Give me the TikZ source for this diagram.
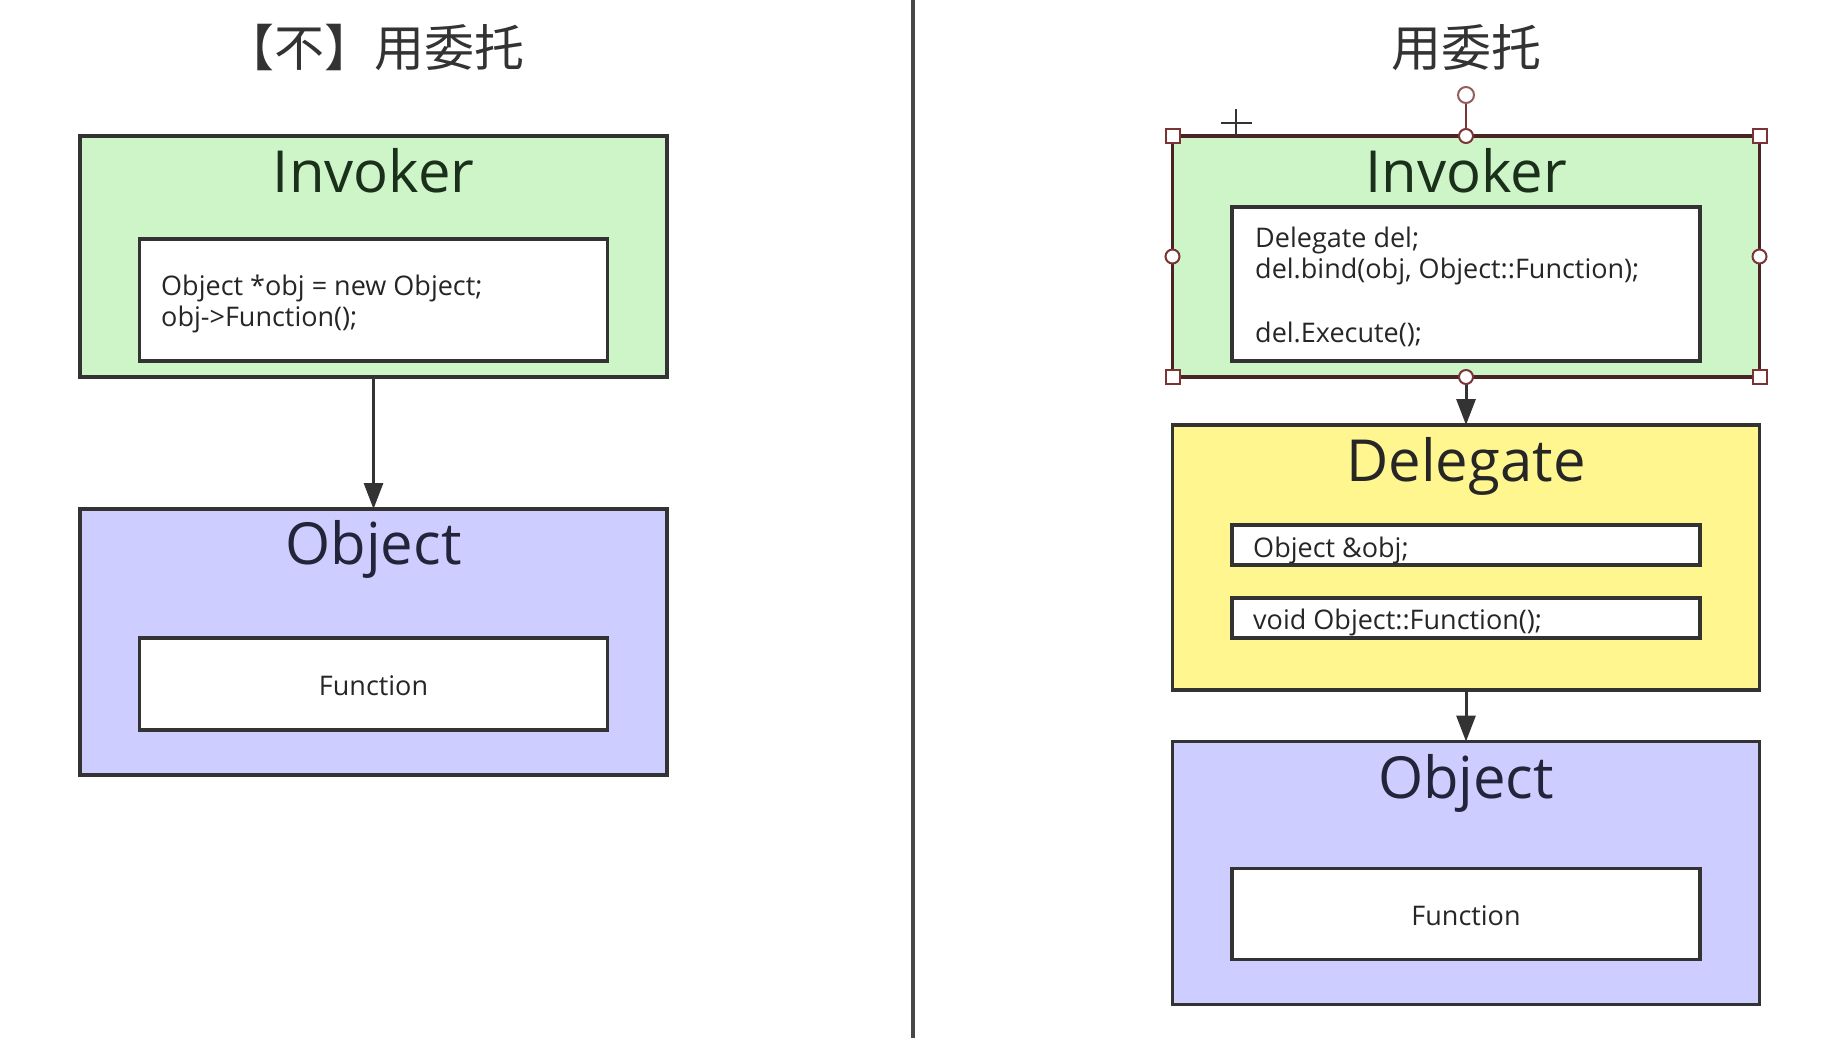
\documentclass[tikz,border=0pt]{standalone}
\usepackage{fontspec}
\setmainfont{Open Sans}
\newfontfamily\cjk{Noto Sans CJK SC}
\usetikzlibrary{arrows.meta}
\definecolor{bordergray}{HTML}{333333}
\definecolor{invgreen}{RGB}{205,245,200}
\definecolor{objblue}{RGB}{205,205,255}
\definecolor{delyellow}{RGB}{255,246,143}
\definecolor{selred}{HTML}{7A3434}
\definecolor{selbox}{HTML}{4A2424}
\definecolor{txtgreen}{HTML}{1B301B}
\definecolor{txtblue}{HTML}{22243A}
\tikzset{
  outerbox/.style={draw=bordergray, line width=3.5pt, rectangle, inner sep=0pt, outer sep=0pt, minimum width=587pt},
  innerbox/.style={draw=bordergray, line width=3.5pt, fill=white, rectangle, inner sep=0pt, outer sep=0pt, minimum width=468pt},
  bigtitle/.style={font=\fontsize{58}{70}\selectfont, anchor=base, inner sep=0pt},
  codetext/.style={font=\fontsize{27}{31}\selectfont, anchor=base west, inner sep=0pt, text=black!85},
  cjktitle/.style={font=\cjk\fontsize{50}{60}\selectfont, anchor=center, inner sep=0pt, text=black!80},
  conn/.style={draw=bordergray, line width=3pt, -{Triangle[length=26pt,width=19pt]}},
  selsq/.style={draw=selred, fill=white, line width=2pt, rectangle, minimum size=14pt, inner sep=0pt},
  selci/.style={draw=selred, fill=white, line width=2pt, circle, minimum size=14pt, inner sep=0pt},
}
\begin{document}
\begin{tikzpicture}[x=1pt, y=-1pt]
\useasboundingbox[fill=white] (0,0) rectangle (1846,1038);

% divider
\draw[line width=4pt, draw=black!72] (913,0) -- (913,1038);

% ---------- left panel ----------
\node[cjktitle] (t1) at (374,48) {【不】用委托};

\node[outerbox, fill=invgreen, minimum height=241pt] (inv1) at (373.5,256.5) {};
\node[bigtitle, text=txtgreen] (inv1t) at (373.5,192) {Invoker};
\node[innerbox, minimum height=122pt] (code1) at (373.5,300) {};
\node[codetext] (c1a) at (161,295) {Object *obj = new Object;};
\node[codetext] (c1b) at (161,326) {obj->Function();};

\node[outerbox, fill=objblue, minimum height=266pt] (obj1) at (373.5,642) {};
\node[bigtitle, text=txtblue] (obj1t) at (373.5,564) {Object};
\node[innerbox, minimum height=92pt] (fn1) at (373.5,684) {};
\node[codetext, anchor=base] (fn1t) at (373.5,695) {Function};

\draw[conn] (inv1.south) -- (obj1.north);

% ---------- right panel ----------
\node[cjktitle] (t2) at (1466,48) {用委托};

\node[outerbox, fill=invgreen, draw=selbox, minimum height=241pt] (inv2) at (1466,256.5) {};
\node[bigtitle, text=txtgreen] (inv2t) at (1466,192) {Invoker};
\node[innerbox, minimum height=154pt] (code2) at (1466,284) {};
\node[codetext] (c2a) at (1255,247) {Delegate del;};
\node[codetext] (c2b) at (1255,278) {del.bind(obj, Object::Function);};
\node[codetext] (c2c) at (1255,342) {del.Execute();};

\node[outerbox, fill=delyellow, minimum height=265pt] (del) at (1466,557.5) {};
\node[bigtitle, text=black!85] (delt) at (1466,481) {Delegate};
\node[innerbox, minimum height=40pt] (f1) at (1466,545) {};
\node[codetext] (f1t) at (1253,557) {Object \&obj;};
\node[innerbox, minimum height=40pt] (f2) at (1466,618) {};
\node[codetext] (f2t) at (1253,629) {void Object::Function();};

\node[outerbox, fill=objblue, minimum height=263pt] (obj2) at (1466,873) {};
\node[bigtitle, text=txtblue] (obj2t) at (1466,798) {Object};
\node[innerbox, minimum height=91pt] (fn2) at (1466,914) {};
\node[codetext, anchor=base] (fn2t) at (1466,925) {Function};

\draw[conn] (inv2.south) -- (del.north);
\draw[conn] (del.south) -- (obj2.north);

% selection handles on right Invoker
\node[selci, minimum size=16pt, draw=selred!80] (rot) at (1466,95) {};
\draw[selred, line width=1.5pt] (rot.south) -- (inv2.north);
\node[selsq] (h1) at (inv2.north west) {};
\node[selsq] (h2) at (inv2.north east) {};
\node[selsq] (h3) at (inv2.south west) {};
\node[selsq] (h4) at (inv2.south east) {};
\node[selci] (h5) at (inv2.north) {};
\node[selci] (h6) at (inv2.south) {};
\node[selci] (h7) at (inv2.west) {};
\node[selci] (h8) at (inv2.east) {};

% cursor crosshair
\coordinate (cx) at (1236,123);
\draw[black!80, line width=1.5pt] ([xshift=-15pt]cx) -- ([xshift=16pt]cx);
\draw[black!80, line width=1.5pt] ([yshift=-13pt]cx) -- ([yshift=14pt]cx);
\end{tikzpicture}
\end{document}
